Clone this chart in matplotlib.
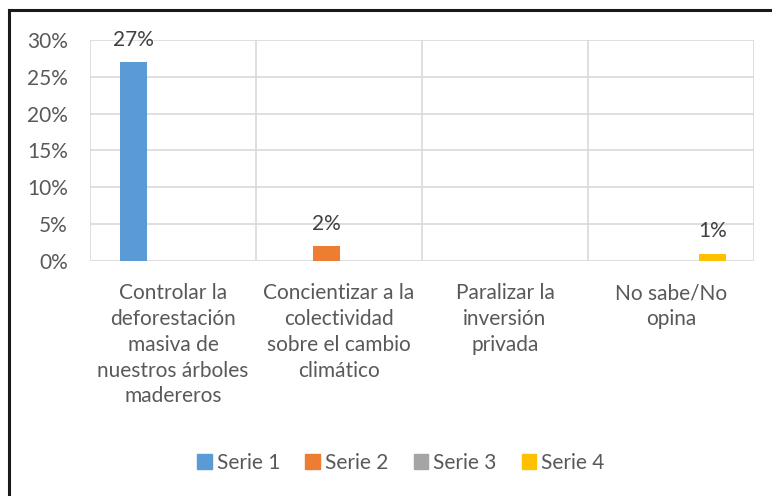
import matplotlib
matplotlib.use("Agg")
import matplotlib.pyplot as plt
from matplotlib.patches import Rectangle
from matplotlib.lines import Line2D
import numpy as np

categories = [
    "Controlar la\ndeforestación\nmasiva de\nnuestros árboles\nmadereros",
    "Concientizar a la\ncolectividad\nsobre el cambio\nclimático",
    "Paralizar la\ninversión\nprivada",
    "No sabe/No\nopina",
]
series_names = ["Serie 1", "Serie 2", "Serie 3", "Serie 4"]
serie1 = [0.27, np.nan, np.nan, np.nan]
serie2 = [np.nan, 0.02, np.nan, np.nan]
serie3 = [np.nan, np.nan, np.nan, np.nan]
serie4 = [np.nan, np.nan, np.nan, 0.01]
colors = ["#5B9BD5", "#ED7D31", "#A5A5A5", "#FFC000"]
yticks = [0, 0.05, 0.10, 0.15, 0.20, 0.25, 0.30]
ytick_labels = ["0%", "5%", "10%", "15%", "20%", "25%", "30%"]

plt.rcParams['font.family'] = ['Lato', 'DejaVu Sans']
TXT = "#595959"
GRID = "#D9D9D9"
FS = 15

W, H = 772, 496
fig = plt.figure(figsize=(W / 100, H / 100), dpi=100)
ax = fig.add_axes([90 / W, (H - 261) / H, (754 - 90) / W, (261 - 40) / H])

all_series = [serie1, serie2, serie3, serie4]
cat_px = 166.0
bw = 27 / cat_px
x = np.arange(len(categories))
for j, (vals, c, name) in enumerate(zip(all_series, colors, series_names)):
    off = -0.5 + (30 + 13.5 + 27 * j) / cat_px
    pos = x + off
    ax.bar(pos, vals, width=bw, color=c, label=name, zorder=3)
    for p, v in zip(pos, vals):
        if not np.isnan(v):
            ax.text(p, v + 0.0165, f"{v*100:.0f}%", ha="center", va="bottom",
                    fontsize=FS, color="#404040", zorder=4)

ax.set_xlim(-0.5, len(categories) - 0.5)
ax.set_ylim(0, 0.30)
ax.set_yticks(yticks)
ax.set_yticklabels(ytick_labels, fontsize=FS, color=TXT)
ax.yaxis.grid(True, color=GRID, linewidth=1.2, zorder=0)
for b in np.arange(-0.5, len(categories), 1.0):
    ax.axvline(b, color=GRID, linewidth=1.2, zorder=0)
ax.set_xticks(x)
ax.set_xticklabels(categories, fontsize=FS, color=TXT, linespacing=1.36, va="top")
ax.tick_params(axis="both", length=0)
ax.tick_params(axis="x", pad=16)
ax.tick_params(axis="y", pad=16)
for s in ax.spines.values():
    s.set_visible(False)

handles = [Rectangle((0, 0), 1, 1, color=c) for c in colors]
fig.legend(handles, series_names, loc="center", bbox_to_anchor=(401 / W, (H - 463) / H),
           ncol=4, frameon=False, fontsize=FS, labelcolor=TXT,
           handlelength=0.7, handleheight=0.7, handletextpad=0.25, columnspacing=1.2)

# outer frame (left and top visible)
fig.add_artist(Line2D([9 / W, 9 / W], [0, (H - 10) / H], transform=fig.transFigure,
                      color="#1a1a1a", linewidth=2.2))
fig.add_artist(Line2D([9 / W, 1], [(H - 10) / H, (H - 10) / H], transform=fig.transFigure,
                      color="#1a1a1a", linewidth=2.2))

fig.savefig("out.png", dpi=100, facecolor="white")
